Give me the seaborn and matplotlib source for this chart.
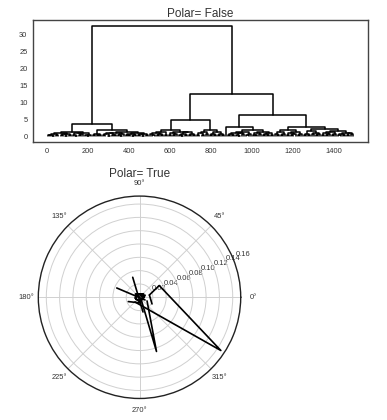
import numpy as np
import pandas as pd
import matplotlib
matplotlib.use("Agg")
import matplotlib.pyplot as plt
import seaborn as sns

# ---------------- data ----------------
# merge height between each pair of adjacent leaves (150 leaves -> 149 gaps),
# read off the dendrogram (Polar= False panel)
gap_heights = [
    0.3, 0.5, 0.2, 0.8, 0.4, 1.0, 0.3, 0.6, 0.2, 0.7, 0.4,
    1.4,
    0.5, 0.2, 0.9, 0.3, 0.6, 1.1, 0.4, 0.2, 0.5,
    3.7,
    0.4, 0.7, 0.3, 0.5,
    1.8,
    0.3, 0.6, 0.2, 0.9, 0.5, 0.3, 1.0, 0.4, 0.2, 0.6,
    1.4,
    0.5, 0.3, 0.8, 0.2, 0.4, 1.1, 0.3, 0.6, 0.2, 0.7, 0.4,
    32.6,
    0.6, 0.3, 1.0, 0.4, 0.8, 0.5, 1.3, 0.4,
    1.9,
    0.4, 0.9, 0.3, 0.6, 1.4, 0.5, 0.2, 0.8, 0.4, 1.2, 0.3, 0.7, 0.5,
    4.9,
    0.5, 0.9, 0.3, 1.2, 0.6,
    1.8,
    0.4, 0.8, 0.3, 1.3, 0.5, 0.7, 0.4,
    12.4,
    2.65,
    0.4, 0.7, 0.3, 1.1, 0.5, 0.2, 0.9, 0.6, 1.4, 0.4, 0.7,
    1.9,
    0.5, 0.3, 0.9, 0.6, 1.4, 0.3, 0.8, 0.5, 1.0, 0.4,
    6.3,
    0.6, 0.3, 1.2, 0.5, 0.8,
    1.9,
    0.4, 1.0, 0.3, 0.7, 1.3, 0.5, 0.6,
    2.85,
    0.5, 0.8, 0.3, 1.5, 0.6, 1.0, 0.4, 0.7,
    2.1,
    0.4, 0.9, 0.3, 0.6, 1.2, 0.5, 0.8, 1.6, 0.4, 0.7, 0.3, 1.1, 0.5, 0.9, 0.6,
]
n_leaves = len(gap_heights) + 1
leaf_spacing = 10

# polar panel polylines (theta in degrees, r)
polar_theta = [
    [13, 30.8, 326.8, 226],
    [311, 287.4, 334],
    [108.8, 283.4],
    [157.8, 334],
    [201, 285],
    [13, 332],
    [0, 70, 140, 210, 280, 350, 40, 120, 190, 260, 330, 20, 160],
]
polar_r = [
    [0.0152, 0.0345, 0.146, 0.0098],
    [0.0034, 0.0853, 0.0126],
    [0.0317, 0.0227],
    [0.0369, 0.0092],
    [0.018, 0.0089],
    [0.0152, 0.0213],
    [0.007, 0.005, 0.008, 0.006, 0.007, 0.004, 0.008, 0.006, 0.007, 0.005, 0.006, 0.009, 0.004],
]
r_ticks = [0.02, 0.04, 0.06, 0.08, 0.10, 0.12, 0.14]
r_tick_labels = ["0.02", "0.04", "0.06", "0.08", "0.10", "0.12", "0.14"]
r_extra_label = 0.169
r_max = 0.152

# ---------------- build dendrogram segments ----------------
segs_x, segs_y = [], []


def build(lo, hi):
    if lo == hi:
        return leaf_spacing * lo + leaf_spacing / 2, 0.0
    k = lo + int(np.argmax(gap_heights[lo:hi]))
    xl, yl = build(lo, k)
    xr, yr = build(k + 1, hi)
    h = gap_heights[k]
    segs_x.append([xl, xl, xr, xr])
    segs_y.append([yl, h, h, yr])
    return (xl + xr) / 2, h


build(0, n_leaves - 1)

rows = []
for i, (xs, ys) in enumerate(zip(segs_x, segs_y)):
    for x, y in zip(xs, ys):
        rows.append({"x": x, "y": y, "seg": i})
dendro_df = pd.DataFrame(rows)

prow = []
for i, (ts, rs) in enumerate(zip(polar_theta, polar_r)):
    for t, r in zip(ts, rs):
        prow.append({"theta": np.deg2rad(t), "r": r, "seg": i})
polar_df = pd.DataFrame(prow)

# ---------------- plot ----------------
sns.set_style("white")
plt.rcParams["font.family"] = ["Liberation Sans", "DejaVu Sans"]
text_c = "#333333"

fig = plt.figure(figsize=(3.87, 4.20), dpi=100)

ax1 = fig.add_axes([0.0853, 0.6619, 0.8656, 0.2905])
sns.lineplot(data=dendro_df, x="x", y="y", units="seg", estimator=None,
             sort=False, color="black", lw=1.1, ax=ax1, legend=False)
ax1.set_xlabel("")
ax1.set_ylabel("")
ax1.set_xticks([0, 200, 400, 600, 800, 1000, 1200, 1400])
ax1.set_yticks([0, 5, 10, 15, 20, 25, 30])
ax1.tick_params(labelsize=5.4, colors=text_c, length=0, pad=4)
for s in ax1.spines.values():
    s.set_color("#444444")
    s.set_linewidth(1.0)
ax1.set_title("Polar= False", fontsize=8.5, color=text_c, pad=2)

ax2 = fig.add_axes([0.099, 0.0512, 0.523, 0.482], projection="polar")
sns.lineplot(data=polar_df, x="theta", y="r", units="seg", estimator=None,
             sort=False, color="black", lw=1.2, ax=ax2, legend=False)
ax2.set_xlabel("")
ax2.set_ylabel("")
ax2.set_ylim(0, r_max)
ax2.set_yticks(r_ticks)
ax2.set_yticklabels(r_tick_labels)
ax2.set_rlabel_position(22.5)
ax2.grid(True, color="#d0d0d0", lw=0.7)
ax2.tick_params(axis="y", labelsize=5.4, colors=text_c, pad=1)
ax2.tick_params(axis="x", labelsize=5.4, colors=text_c, length=0, pad=2)
ax2.text(np.deg2rad(22.5), r_extra_label, "0.16", fontsize=5.4, color=text_c,
         clip_on=False, ha="center", va="center")
ax2.spines["polar"].set_color("#222222")
ax2.spines["polar"].set_linewidth(1.0)
ax2.set_title("Polar= True", fontsize=8.5, color=text_c, pad=-1)

fig.savefig("out.png", dpi=100)
